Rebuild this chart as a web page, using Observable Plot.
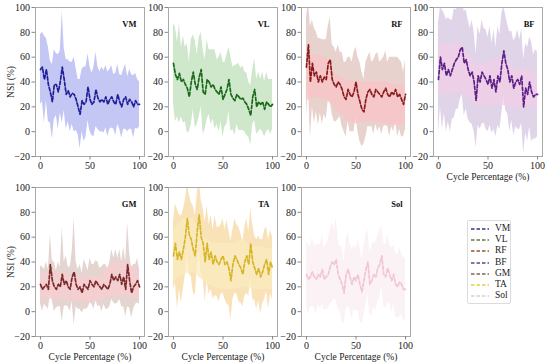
<!DOCTYPE html>
<html><head><meta charset="utf-8">
<script src="https://cdn.jsdelivr.net/npm/d3@7"></script>
<script src="https://cdn.jsdelivr.net/npm/@observablehq/plot@0.6"></script>
<style>
body{margin:0;background:#fff;}
#wrap{position:relative;width:550px;height:364px;overflow:hidden;font-family:"Liberation Serif","Times New Roman",serif;}
#wrap svg{position:absolute;background:transparent !important;}
#wrap svg, #wrap svg text{font-family:"Liberation Serif","Times New Roman",serif !important;}
.legend{position:absolute;left:467px;top:220px;width:44px;height:84px;border:1px solid #dcdcdc;border-radius:2px;box-sizing:border-box;font-size:9.5px;color:#222;padding-top:2px;}
.legend .row{height:11.2px;line-height:11.2px;white-space:nowrap;position:relative;}
.legend .row svg{position:absolute;left:3px;top:4px;}
.legend .row span{position:absolute;left:27px;top:0;}
</style></head><body><div id="wrap"></div>
<script>
// ---- data ----
const muscles = ["VM","VL","RF","BF","GM","TA","Sol"];
const cycleTicks = [0,50,100];
const nsiTicks = [-20,0,20,40,60,80,100];
const xLabel = "Cycle Percentage (%)";
const yLabel = "NSI (%)";
// mean NSI (%) at cycle 0,2,4,...,100
const VM_mean = [50,52,42,50,38,32,24,38,38,32,40,52,42,30,33,28,31,30,26,20,14,25,22,24,36,26,22,24,34,27,24,26,24,28,22,26,28,24,22,30,24,20,26,28,22,26,24,20,25,22,22];
const VM_sd   = [28,28,35,25,30,25,30,28,25,30,25,45,25,28,25,28,25,30,25,22,28,25,30,28,27,26,25,28,30,25,24,26,25,25,26,24,25,22,25,24,22,25,24,26,22,24,22,25,22,20,18];
const VL_mean = [55,46,42,47,40,42,38,35,28,40,48,38,34,44,50,32,30,42,40,36,38,34,32,30,36,26,30,34,42,30,27,25,30,28,26,27,24,22,18,13,28,34,20,24,22,24,18,24,22,20,22];
const VL_sd   = [32,38,30,40,28,35,30,36,28,34,30,35,28,32,30,34,28,32,26,30,28,32,26,30,28,30,26,28,26,30,25,28,24,27,25,26,24,25,22,24,22,25,22,24,20,24,22,24,20,22,20];
const RF_mean = [52,70,40,55,45,48,40,45,40,44,42,55,58,42,38,36,40,38,34,28,26,34,30,28,32,40,30,24,18,16,26,32,34,30,28,34,32,30,28,32,35,30,28,32,30,34,28,30,26,22,30];
const RF_sd   = [40,35,45,35,38,32,35,30,34,30,32,30,34,28,30,28,30,26,30,28,30,26,30,28,32,28,30,32,30,26,30,28,30,26,30,28,32,26,30,28,30,26,32,28,30,26,32,28,30,26,28];
const BF_mean = [42,60,50,55,45,50,45,50,55,58,60,66,68,55,58,50,45,48,40,25,45,40,48,45,42,38,45,35,42,32,45,40,55,65,55,50,40,45,35,40,42,38,45,20,35,30,40,32,28,30,30];
const BF_sd   = [45,40,48,40,45,42,45,40,44,40,42,40,38,42,40,40,38,42,40,38,40,38,42,38,40,38,40,36,40,36,40,38,40,36,38,36,40,36,38,36,40,36,38,38,36,38,36,40,34,36,34];
const GM_mean = [22,18,20,22,18,38,25,20,18,22,20,30,22,25,20,18,28,32,22,18,20,15,22,20,18,25,22,20,25,22,20,18,22,20,18,22,30,25,28,25,30,22,28,18,38,25,15,20,22,25,20];
const GM_sd   = [15,18,14,18,16,24,16,20,15,18,16,38,18,20,16,18,20,43,18,16,18,16,20,18,15,18,16,18,16,18,15,18,16,18,16,18,20,18,22,18,20,18,24,22,34,22,20,18,16,18,14];
const TA_mean = [45,55,42,48,42,50,60,75,62,58,50,45,65,78,60,55,40,55,42,48,38,45,40,38,42,45,38,40,35,25,38,45,42,38,35,30,40,45,38,55,40,35,30,35,28,32,38,42,30,40,35];
const TA_sd   = [28,32,40,30,35,32,30,28,32,30,35,32,30,28,30,28,32,30,28,30,28,32,28,30,28,30,28,34,30,32,28,30,28,30,28,26,28,30,26,28,30,26,28,26,30,26,28,26,28,26,25];
const Sol_mean = [30,26,28,32,28,26,30,28,34,26,28,30,36,40,38,42,30,26,22,15,30,34,28,22,28,25,30,22,16,25,34,40,22,25,30,28,35,38,45,30,28,35,30,25,30,22,20,24,22,18,18];
const Sol_sd   = [25,28,24,28,25,28,24,26,28,25,26,28,30,32,28,33,28,26,30,25,28,30,26,28,26,25,28,30,26,28,28,26,25,28,26,28,26,28,24,26,25,28,24,26,24,26,25,28,24,26,25];
// inner (core) band at cycle 0,10,...,100
const RF_inLo = [25,28,26,18,10,6,8,8,6,5,6];
const RF_inHi = [62,62,60,46,42,40,40,40,40,38,38];
const BF_inLo = [30,30,32,28,20,20,22,20,18,20,20];
const BF_inHi = [70,70,72,62,55,55,60,55,50,50,48];
const GM_inLo = [8,10,10,10,8,8,8,12,12,12,10];
const GM_inHi = [30,32,32,30,28,28,28,38,40,38,32];
const TA_inLo = [25,30,32,25,20,18,18,20,18,18,18];
const TA_inHi = [65,75,75,60,55,55,55,58,52,52,50];

// ---- build ----
function rows(mean, sd){ return mean.map((m,i)=>({x:i*2, mean:m, lo:m-sd[i], hi:m+sd[i]})); }
function innerRows(lo,hi){ return lo ? lo.map((l,i)=>({x:i*10, lo:l, hi:hi[i]})) : null; }

const series = {
  VM:{mean:VM_mean, sd:VM_sd},
  VL:{mean:VL_mean, sd:VL_sd},
  RF:{mean:RF_mean, sd:RF_sd, lo:RF_inLo, hi:RF_inHi},
  BF:{mean:BF_mean, sd:BF_sd, lo:BF_inLo, hi:BF_inHi},
  GM:{mean:GM_mean, sd:GM_sd, lo:GM_inLo, hi:GM_inHi},
  TA:{mean:TA_mean, sd:TA_sd, lo:TA_inLo, hi:TA_inHi},
  Sol:{mean:Sol_mean, sd:Sol_sd}
};
const styles = {
  VM:{line:"#1f1f99", band:"#c4c7f4", inner:null, leg:"#33338a"},
  VL:{line:"#1a6a1a", band:"#cfe7cb", inner:null, leg:"#66783a"},
  RF:{line:"#8b1c1c", band:"#e8d2cd", inner:"#fbc3c6", leg:"#8a5a3e"},
  BF:{line:"#5c1f86", band:"#e0d4e9", inner:"#f2cfe7", leg:"#5a4a7c"},
  GM:{line:"#7b2a2a", band:"#e5d5d1", inner:"#f7ccd1", leg:"#7a6a52"},
  TA:{line:"#d6b526", band:"#f9e2b8", inner:"#fbebc0", leg:"#e0d048"},
  Sol:{line:"#f3c4d1", band:"#fbf2f5", inner:null, leg:"#d8d0d8"}
};

const FL = [35,168,301,433], FT = [7,187];
const FW = 109, FH = 149;
const mL = 32, mR = 6, mT = 6, mB = 28;
const font = '"Liberation Serif","Times New Roman",serif';
const wrap = document.getElementById("wrap");

muscles.forEach((name, k) => {
  const col = k % 4, row = Math.floor(k / 4);
  const s = series[name], st = styles[name];
  const data = rows(s.mean, s.sd);
  const inner = innerRows(s.lo, s.hi);
  const showX = (row === 1) || col === 3;
  const marks = [
    Plot.areaY(data, {x:"x", y1:"lo", y2:"hi", fill:st.band, clip:true}),
  ];
  if (inner) marks.push(Plot.areaY(inner, {x:"x", y1:"lo", y2:"hi", fill:st.inner, fillOpacity:0.75, clip:true}));
  marks.push(
    Plot.lineY(data, {x:"x", y:"mean", stroke:st.line, strokeWidth:1.7, strokeDasharray:"3.5,2", clip:true}),
    Plot.frame({stroke:"#a9a9a9"}),
    Plot.axisX({ticks:cycleTicks, tickSize:3.5, tickPadding:2, stroke:"#888", fill:"#222", fontSize:10, fontFamily:font, label:null}),
    Plot.axisY({ticks:nsiTicks, tickSize:3.5, tickPadding:2, stroke:"#888", fill:"#222", fontSize:10, fontFamily:font, label:null}),
    Plot.text([name], {frameAnchor:"top-right", dx:-8, dy:13, fontWeight:"bold", fontSize:8.5, fontFamily:font, fill:"#111"})
  );
  if (col === 0) marks.push(Plot.text([yLabel], {frameAnchor:"left", dx:-25, rotate:-90, textAnchor:"middle", fontSize:9.5, fontFamily:font, fill:"#222"}));
  if (showX) marks.push(Plot.text([xLabel], {frameAnchor:"bottom", dy:20, lineAnchor:"middle", fontSize:9.5, fontFamily:font, fill:"#222"}));
  const svg = Plot.plot({
    width: FW + mL + mR, height: FH + mT + mB,
    marginLeft: mL, marginRight: mR, marginTop: mT, marginBottom: mB,
    style: {background:"transparent", "font-family":font, fontSize:"10px", overflow:"visible"},
    x: {domain:[-5,105]},
    y: {domain:[-20,100]},
    marks
  });
  svg.style.left = (FL[col] - mL) + "px";
  svg.style.top = (FT[row] - mT) + "px";
  wrap.appendChild(svg);
});

// legend
const leg = document.createElement("div");
leg.className = "legend";
muscles.forEach(name => {
  const r = document.createElement("div");
  r.className = "row";
  r.innerHTML = `<svg width="18" height="4"><line x1="0" y1="2" x2="18" y2="2" stroke="${styles[name].leg}" stroke-width="1.4" stroke-dasharray="3.5,2"/></svg><span>${name}</span>`;
  leg.appendChild(r);
});
wrap.appendChild(leg);
</script>
</body></html>
